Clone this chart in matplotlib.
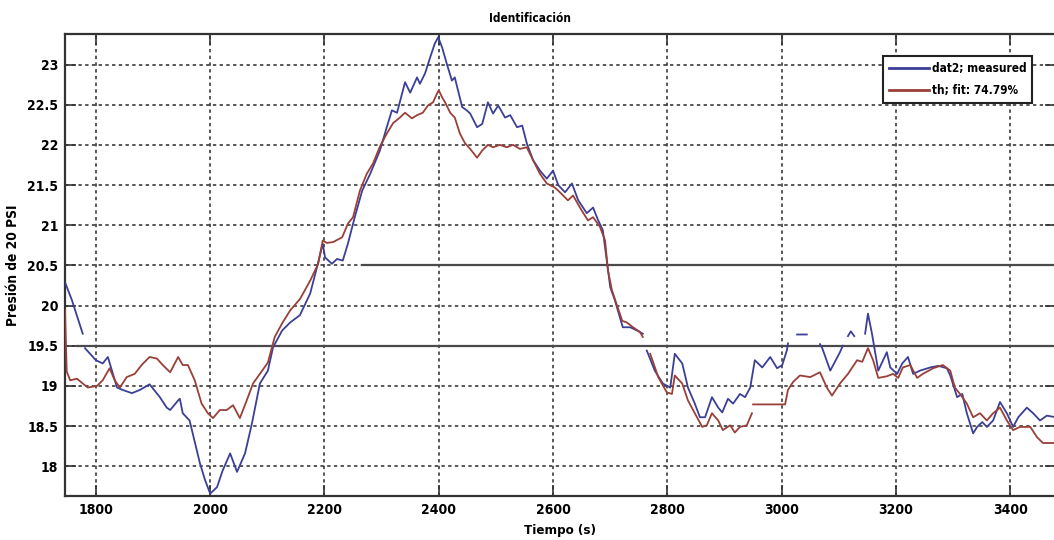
import numpy as np
import matplotlib
matplotlib.use("Agg")
import matplotlib.pyplot as plt
from matplotlib import font_manager

nan = np.nan

# Measured pressure (dat2)
t_meas = [1746, 1758, 1777, nan, 1781, 1800, 1812, 1821, 1837, 1847, 1863, 1877, 1894,
          1912, 1924, 1930, 1944, 1947, 1952, 1964, 1982, 1991, 2000, 2012, 2022, 2035,
          2047, 2061, 2073, 2087, 2101, 2110, 2126, 2140, 2157, 2175, 2187, 2197, 2201,
          2213, 2222, 2232, 2241, 2253, 2266, 2280, 2297, 2309, 2318, 2327, 2341, 2350,
          2362, 2367, 2376, 2385, 2393, 2399, 2406, 2414, 2423, 2428, 2441, 2449, 2455,
          2467, 2476, 2486, 2495, 2504, 2516, 2525, 2537, 2546, 2554, 2565, 2577, 2589,
          2600, 2609, 2621, 2633, 2644, 2659, 2670, 2679, 2687, 2694, 2700, 2708, 2717,
          2722, 2735, 2747, 2757, nan, 2764, 2778, 2792, 2805, 2813, 2826, 2836, 2848,
          2857, 2866, 2878, 2889, 2896, 2906, 2915, 2927, 2936, 2945, 2953, 2966, 2980,
          2992, 3001, 3009, 3011, nan, 3027, 3044, nan, 3067, 3071, 3085, 3102, 3107, nan,
          3116, 3121, 3127, nan, 3146, 3151, 3158, 3162, 3169, 3184, 3190, 3202, 3211,
          3221, 3230, 3242, 3260, 3274, 3289, 3295, 3307, 3316, 3324, 3335, 3342, 3351,
          3359, 3370, 3382, 3394, 3405, 3414, 3429, 3440, 3452, 3464, 3480]
p_meas = [20.29, 20.07, 19.65, nan, 19.47, 19.32, 19.28, 19.36, 18.98, 18.95, 18.91, 18.95,
          19.02, 18.86, 18.73, 18.70, 18.82, 18.84, 18.66, 18.57, 18.04, 17.83, 17.66,
          17.74, 17.95, 18.16, 17.93, 18.16, 18.53, 19.03, 19.19, 19.48, 19.69, 19.79,
          19.88, 20.15, 20.48, 20.77, 20.60, 20.52, 20.58, 20.56, 20.77, 21.10, 21.43,
          21.64, 21.93, 22.22, 22.43, 22.40, 22.78, 22.65, 22.84, 22.76, 22.89, 23.09,
          23.26, 23.34, 23.21, 23.01, 22.80, 22.84, 22.47, 22.43, 22.39, 22.22, 22.26,
          22.53, 22.39, 22.49, 22.34, 22.37, 22.22, 22.24, 22.02, 21.81, 21.68, 21.58,
          21.68, 21.50, 21.41, 21.52, 21.31, 21.15, 21.22, 21.06, 20.94, 20.56, 20.23,
          20.07, 19.85, 19.73, 19.73, 19.69, 19.65, nan, 19.44, 19.19, 19.03, 18.98, 19.40,
          19.28, 18.98, 18.78, 18.61, 18.61, 18.86, 18.73, 18.67, 18.84, 18.78, 18.90,
          18.86, 18.98, 19.32, 19.23, 19.36, 19.22, 19.26, 19.44, 19.53, nan, 19.64, 19.64,
          nan, 19.52, 19.47, 19.19, 19.42, 19.50, nan, 19.62, 19.68, 19.62, nan, 19.65,
          19.90, 19.65, 19.48, 19.19, 19.42, 19.23, 19.15, 19.28, 19.36, 19.15, 19.19,
          19.23, 19.25, 19.22, 19.13, 18.86, 18.90, 18.66, 18.41, 18.49, 18.55, 18.49,
          18.57, 18.80, 18.66, 18.49, 18.61, 18.73, 18.66, 18.57, 18.63, 18.61]

# Model output (th)
t_fit = [1746, 1749, 1755, 1767, 1777, 1786, 1802, 1812, 1824, 1833, 1842, 1854, 1868,
         1880, 1894, 1907, 1917, 1930, 1944, 1952, 1961, 1973, 1985, 1996, 2005, 2017,
         2029, 2040, 2052, 2064, 2075, 2091, 2101, 2113, 2126, 2140, 2157, 2175, 2189,
         2197, 2204, 2215, 2231, 2241, 2250, 2262, 2274, 2285, 2297, 2309, 2320, 2332,
         2341, 2353, 2362, 2372, 2381, 2390, 2397, 2400, 2406, 2411, 2420, 2428, 2437,
         2446, 2455, 2467, 2476, 2486, 2495, 2507, 2519, 2530, 2542, 2554, 2565, 2577,
         2589, 2603, 2612, 2626, 2635, 2647, 2661, 2670, 2682, 2691, 2696, 2703, 2712,
         2721, 2729, 2740, 2752, 2757, nan, 2770, 2784, 2799, 2808, 2813, 2826, 2836,
         2848, 2861, 2869, 2878, 2889, 2897, 2910, 2918, 2927, 2939, 2948, nan, 2950,
         3006, 3011, 3020, 3032, 3050, 3067, 3079, 3088, 3102, 3116, 3132, 3141, 3151,
         3160, 3169, 3184, 3195, 3204, 3212, 3225, 3237, 3247, 3265, 3282, 3295, 3303,
         3312, 3324, 3335, 3347, 3359, 3370, 3382, 3394, 3405, 3417, 3435, 3447, 3457,
         3480]
p_fit = [19.95, 19.18, 19.07, 19.09, 19.03, 18.98, 19.00, 19.07, 19.22, 19.07, 18.98,
         19.11, 19.15, 19.26, 19.36, 19.34, 19.26, 19.17, 19.36, 19.26, 19.26, 19.07,
         18.78, 18.66, 18.60, 18.70, 18.70, 18.76, 18.60, 18.82, 19.03, 19.19, 19.29,
         19.61, 19.78, 19.94, 20.08, 20.31, 20.52, 20.81, 20.78, 20.79, 20.85, 21.02,
         21.10, 21.43, 21.64, 21.77, 21.98, 22.14, 22.27, 22.34, 22.40, 22.33, 22.37,
         22.40, 22.49, 22.53, 22.64, 22.68, 22.59, 22.53, 22.40, 22.34, 22.14, 22.02,
         21.95, 21.84, 21.93, 22.00, 21.97, 22.00, 21.97, 22.00, 21.95, 21.97, 21.81,
         21.64, 21.52, 21.47, 21.41, 21.31, 21.37, 21.22, 21.06, 21.10, 20.98, 20.81,
         20.44, 20.19, 20.00, 19.81, 19.79, 19.73, 19.67, 19.61, nan, 19.40, 19.11, 18.92,
         18.90, 19.13, 19.03, 18.82, 18.66, 18.49, 18.51, 18.66, 18.57, 18.45, 18.51,
         18.42, 18.49, 18.51, 18.66, nan, 18.77, 18.77, 18.95, 19.05, 19.13, 19.11, 19.17,
         18.98, 18.88, 19.03, 19.15, 19.32, 19.30, 19.47, 19.32, 19.10, 19.12, 19.15,
         19.10, 19.23, 19.26, 19.10, 19.15, 19.22, 19.26, 19.19, 18.98, 18.90, 18.78,
         18.61, 18.66, 18.57, 18.66, 18.73, 18.57, 18.45, 18.49, 18.49, 18.36, 18.29,
         18.29]

x_ticks = [1800, 2000, 2200, 2400, 2600, 2800, 3000, 3200, 3400]
y_ticks = [18, 18.5, 19, 19.5, 20, 20.5, 21, 21.5, 22, 22.5, 23]
y_tick_labels = ["18", "18.5", "19", "19.5", "20", "20.5", "21", "21.5", "22", "22.5", "23"]
series_labels = ["dat2; measured", "th; fit: 74.79%"]

# narrow bold face if one is available, otherwise DejaVu
available = {f.name for f in font_manager.fontManager.ttflist}
families = [f for f in ["Liberation Sans Narrow", "Arial Narrow", "DejaVu Sans"] if f in available]
plt.rcParams["font.family"] = families + ["DejaVu Sans"]
plt.rcParams["font.weight"] = "bold"
plt.rcParams["font.stretch"] = "condensed"

fig = plt.figure(figsize=(10.54, 5.40), dpi=100)
ax = fig.add_axes([65 / 1054, 44 / 540, 991 / 1054, 462 / 540])

blue = "#3b3f98"
red = "#9a4038"
ax.plot(t_meas, p_meas, color=blue, lw=1.3, label=series_labels[0], zorder=3)
ax.plot(t_fit, p_fit, color=red, lw=1.3, label=series_labels[1], zorder=3)

# heavy horizontal rules across the plot area
ax.axhline(19.5, xmin=0.012, xmax=1.0, color="#4a4a4a", lw=1.6, zorder=2)
ax.axhline(20.5, xmin=0.30, xmax=1.0, color="#4a4a4a", lw=1.6, zorder=2)

ax.set_xlim(1746, 3480)
ax.set_ylim(17.63, 23.38)
ax.set_xticks(x_ticks)
ax.set_xticklabels([str(v) for v in x_ticks])
ax.set_yticks(y_ticks)
ax.set_yticklabels(y_tick_labels)

ax.grid(True, color="#2a2a2a", linestyle=(0, (2.2, 2.2)), lw=1.1)
ax.set_axisbelow(True)

ax.tick_params(direction="in", length=8, width=1.2, color="#333333",
               top=True, right=True, labelsize=10, pad=5)
for lab in ax.get_xticklabels() + ax.get_yticklabels():
    lab.set_fontweight("bold")

for side in ["left", "bottom", "top"]:
    ax.spines[side].set_color("#333333")
    ax.spines[side].set_linewidth(1.6)
ax.spines["right"].set_visible(False)

ax.set_title("Identificación", fontsize=8.5, fontweight="bold", x=0.469, pad=9)
ax.set_xlabel("Tiempo (s)", fontsize=9.5, fontweight="bold", labelpad=5)
ax.set_ylabel("Presión de 20 PSI", fontsize=9.8, fontweight="bold", labelpad=5)

leg = ax.legend(loc="upper right", bbox_to_anchor=(0.982, 0.965), fontsize=8.5,
                frameon=True, fancybox=False, edgecolor="#222222", framealpha=1,
                handlelength=3.4, handletextpad=0.2, borderpad=0.5, labelspacing=0.75)
leg.get_frame().set_linewidth(1.5)
for line in leg.get_lines():
    line.set_linewidth(2.0)
for txt in leg.get_texts():
    txt.set_fontweight("bold")

fig.savefig("out.png", dpi=100, facecolor="white")
